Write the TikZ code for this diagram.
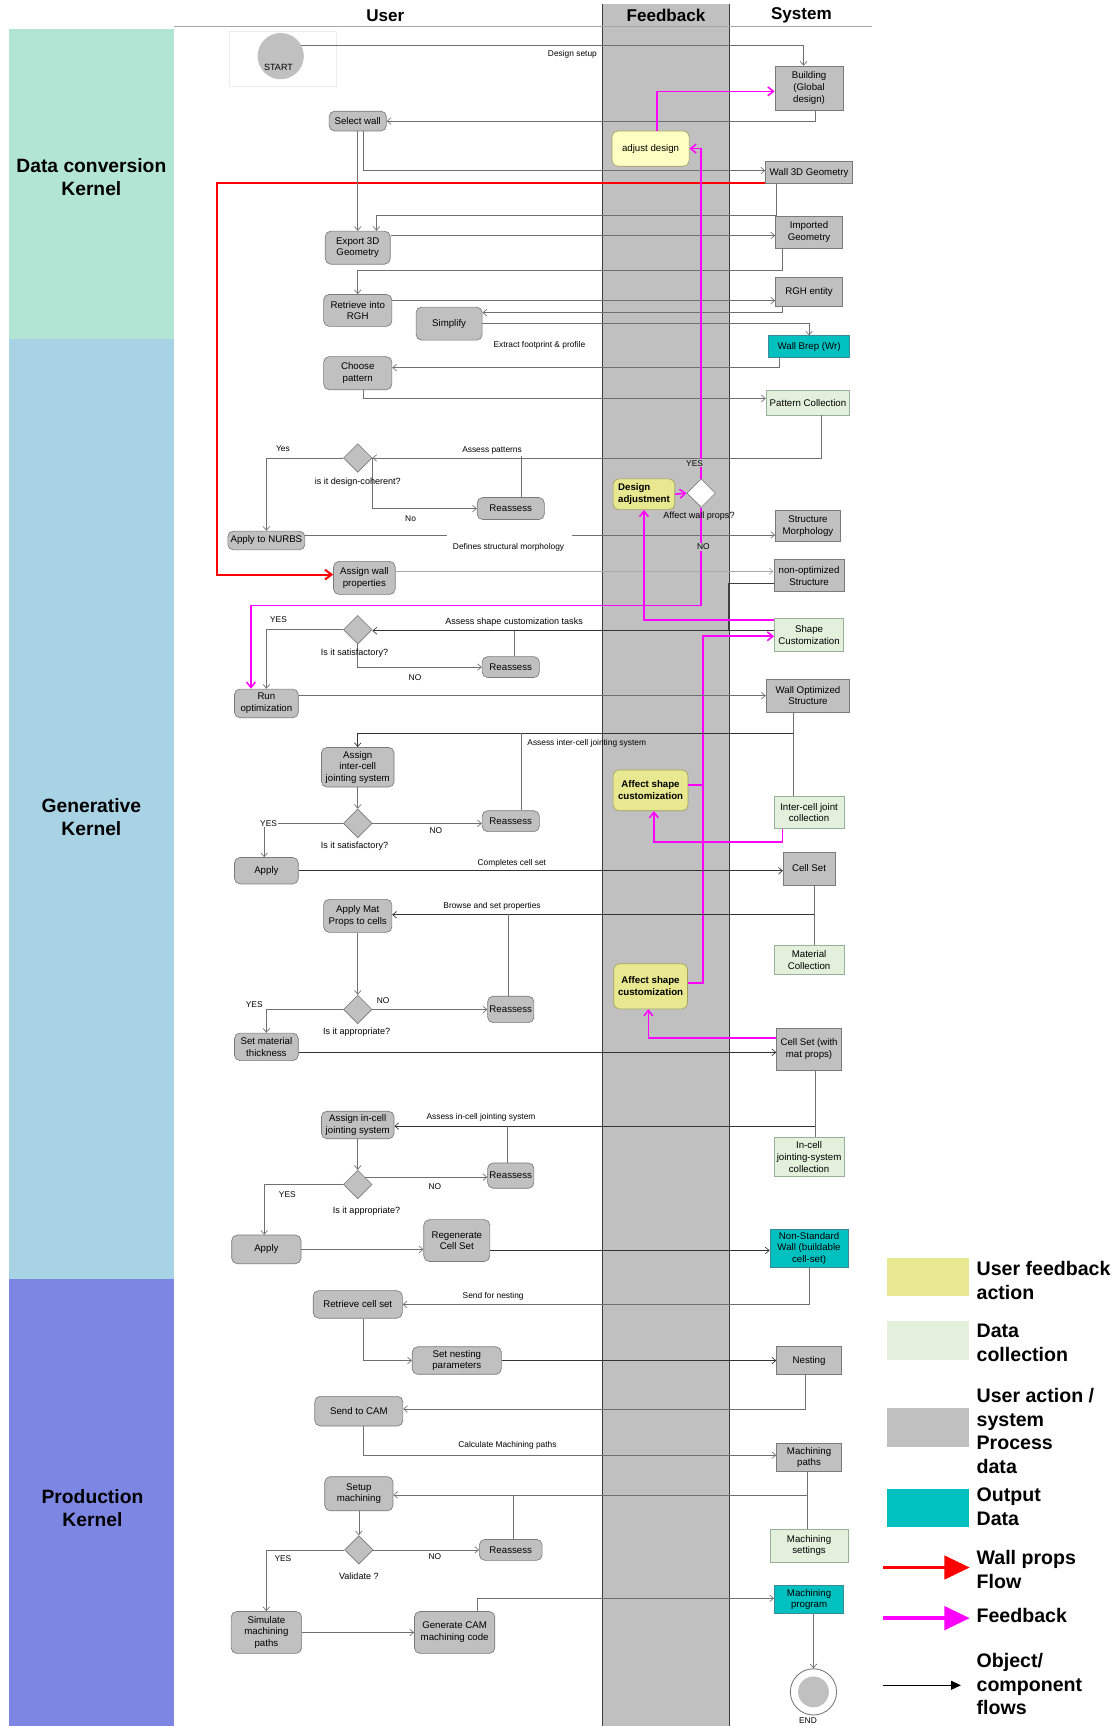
\documentclass[tikz,border=0pt]{standalone}
\usepackage{fontspec}
\setmainfont{Liberation Sans}
\usetikzlibrary{arrows.meta,shapes.geometric}
\definecolor{boxgray}{HTML}{C0C0C0}
\definecolor{boxedge}{HTML}{7A7A7A}
\definecolor{lanegray}{HTML}{C0C0C0}
\definecolor{datagreen}{HTML}{E2F0DC}
\definecolor{greenedge}{HTML}{98B098}
\definecolor{tealc}{HTML}{00C0C0}
\definecolor{tealedge}{HTML}{3A8A9A}
\definecolor{fbyellow}{HTML}{E8E890}
\definecolor{paleyellow}{HTML}{FFFFC4}
\definecolor{yedge}{HTML}{A0A060}
\definecolor{linec}{HTML}{707070}
\definecolor{mintband}{HTML}{B3E5D4}
\definecolor{blueband}{HTML}{A8D3E5}
\definecolor{purpband}{HTML}{7D86E2}
\definecolor{fbmag}{RGB}{255,0,255}
\definecolor{wpred}{RGB}{255,0,0}
\begin{document}
\begin{tikzpicture}[x=1pt,y=-1pt,
  base/.style={draw=boxedge, line width=0.6pt, align=center, inner sep=1pt, font=\fontsize{8.8}{10.6}\selectfont, text=black},
  ubox/.style={base, fill=boxgray, rounded corners=5pt},
  sbox/.style={base, fill=boxgray},
  dcol/.style={base, fill=datagreen, draw=greenedge},
  outd/.style={base, fill=tealc, draw=tealedge},
  fbk/.style={base, fill=fbyellow, draw=yedge, rounded corners=5pt, font=\bfseries\fontsize{8.8}{10.6}\selectfont},
  dia/.style={diamond, draw=boxedge, fill=boxgray, line width=0.6pt, minimum width=26pt, minimum height=26pt, inner sep=0pt},
  sz/.style 2 args={minimum width=#1pt, minimum height=#2pt},
  lbl/.style={font=\fontsize{7.6}{9}\selectfont, inner sep=1pt},
  qlbl/.style={font=\fontsize{8.2}{9.5}\selectfont, inner sep=1pt},
  ln/.style={draw=linec, line width=0.6pt, -{Straight Barb[length=3.5pt,width=6pt]}},
  lnk/.style={ln, draw=black!80},
  pl/.style={draw=linec, line width=0.6pt},
  mg/.style={draw=fbmag, line width=1.4pt, -{Straight Barb[length=5pt,width=8pt]}},
  mgp/.style={draw=fbmag, line width=1.4pt},
  rd/.style={draw=wpred, line width=1.8pt, -{Straight Barb[length=6pt,width=9pt]}},
  hdr/.style={font=\bfseries\fontsize{15.5}{18}\selectfont, inner sep=0pt},
  kern/.style={font=\bfseries\fontsize{17.5}{21}\selectfont, align=center, inner sep=0pt},
  legt/.style={font=\bfseries\fontsize{17.8}{21.5}\selectfont, align=left, anchor=west, inner sep=0pt},
  legbox/.style={minimum width=74pt, inner sep=0pt}
]
\useasboundingbox (0,0) rectangle (1015,1568);
\fill[white] (0,0) rectangle (1015,1568);
% kernel bands
\fill[mintband] (8,26) rectangle (158,308);
\fill[blueband] (8,308) rectangle (158,1162);
\fill[purpband] (8,1162) rectangle (158,1568);
\node[kern] (kdata) at (83,161) {Data conversion\\Kernel};
\node[kern] (kgen) at (83,742) {Generative\\Kernel};
\node[kern] (kprod) at (84,1370) {Production\\Kernel};
% feedback lane
\fill[lanegray] (547,4) rectangle (663,1568);
\draw[black!75, line width=0.8pt] (547,4) -- (547,1568) (663,4) -- (663,1568);
\draw[gray!70, line width=0.6pt] (158,24) -- (792,24);
\node[hdr] (huser) at (350,14) {User};
\node[hdr] (hfb) at (605,14) {Feedback};
\node[hdr] (hsys) at (728,14) {System};

% start
\draw[gray!15] (208,28) rectangle (305,78);
\node[circle, fill=boxgray, minimum size=42pt, inner sep=0pt] (start) at (255,51) {};
\node[qlbl] (startl) at (253,61) {START};

% nodes
\node[sbox, sz={62}{40}] (bld) at (735,80) {Building\\(Global\\design)};
\node[ubox, sz={52}{18}] (selw) at (325,110) {Select wall};
\node[base, fill=paleyellow, draw=yedge, rounded corners=5pt, sz={70}{32}] (adj) at (591,135) {adjust design};
\node[sbox, sz={79}{20}] (w3d) at (735,157) {Wall 3D Geometry};
\node[ubox, sz={59}{30}] (exp) at (325,225) {Export 3D\\Geometry};
\node[sbox, sz={61}{29}] (imp) at (735,211) {Imported\\Geometry};
\node[ubox, sz={62}{29}] (ret) at (325,282) {Retrieve into\\RGH};
\node[sbox, sz={61}{27}] (rgh) at (735,265) {RGH entity};
\node[ubox, sz={60}{30}] (simp) at (408,294) {Simplify};
\node[outd, sz={74}{20}] (brep) at (735,315) {Wall Brep (Wr)};
\node[ubox, sz={62}{30}] (choose) at (325,339) {Choose\\pattern};
\node[dcol, sz={76}{22}] (patc) at (734,366) {Pattern Collection};
\node[dia] (d1) at (325,416) {};
\node[ubox, sz={61}{20}] (re1) at (464,462) {Reassess};
\node[ubox, sz={70}{17}] (nurbs) at (242,491) {Apply to NURBS};
\node[sbox, sz={59}{28}] (smor) at (734,478) {Structure\\Morphology};
\node[ubox, sz={56}{30}] (awp) at (331,525) {Assign wall\\properties};
\node[sbox, sz={64}{29}] (nonopt) at (735,523) {non-optimized\\Structure};
\node[fbk, sz={56}{28}, align=left] (dadj) at (585,449) {Design\\adjustment};
\node[dia, fill=white] (dwp) at (637,448) {};
\node[dcol, sz={63}{30}] (shc) at (735,577) {Shape\\Customization};
\node[dia] (d2) at (325,572) {};
\node[ubox, sz={52}{19}] (re2) at (464,606) {Reassess};
\node[ubox, sz={58}{26}] (runopt) at (242,639) {Run\\optimization};
\node[sbox, sz={76}{30}] (wos) at (734,632) {Wall Optimized\\Structure};
\node[ubox, sz={66}{36}] (aic) at (325,697) {Assign\\inter-cell\\jointing system};
\node[dia] (d3) at (325,748) {};
\node[ubox, sz={52}{19}] (re3) at (464,746) {Reassess};
\node[dcol, sz={64}{29}] (icjc) at (735,738) {Inter-cell joint\\collection};
\node[fbk, sz={68}{37}] (asc1) at (591,718) {Affect shape\\customization};
\node[ubox, sz={58}{24}] (apply1) at (242,791) {Apply};
\node[sbox, sz={47}{30}] (cellset) at (735,789) {Cell Set};
\node[ubox, sz={62}{30}] (amp) at (325,832) {Apply Mat\\Props to cells};
\node[dcol, sz={64}{26}] (matc) at (735,872) {Material\\Collection};
\node[fbk, sz={67}{41}] (asc2) at (591,896) {Affect shape\\customization};
\node[dia] (d4) at (325,917) {};
\node[ubox, sz={42}{24}] (re4) at (464,917) {Reassess};
\node[ubox, sz={58}{25}] (smt) at (242,951) {Set material\\thickness};
\node[sbox, sz={59}{38}] (csmp) at (735,953) {Cell Set (with\\mat props)};
\node[ubox, sz={66}{25}] (ainc) at (325,1022) {Assign in-cell\\jointing system};
\node[dcol, sz={64}{36}] (injc) at (735,1051) {In-cell\\jointing-system\\collection};
\node[dia] (d5) at (325,1076) {};
\node[ubox, sz={42}{23}] (re5) at (464,1068) {Reassess};
\node[ubox, sz={63}{26}] (apply2) at (242,1135) {Apply};
\node[ubox, sz={60}{38}] (regen) at (415,1127) {Regenerate\\Cell Set};
\node[outd, sz={71}{35}] (nsw) at (735,1134) {Non-Standard\\Wall (buildable\\cell-set)};
\node[ubox, sz={81}{25}] (rcs) at (325,1185) {Retrieve cell set};
\node[ubox, sz={81}{25}] (snp) at (415,1236) {Set nesting\\parameters};
\node[sbox, sz={59}{25}] (nest) at (735,1236) {Nesting};
\node[ubox, sz={80}{27}] (cam) at (326,1282) {Send to CAM};
\node[sbox, sz={59}{25}] (mpath) at (735,1324) {Machining\\paths};
\node[ubox, sz={62}{31}] (setm) at (326,1357) {Setup\\machining};
\node[dcol, sz={71}{30}] (mset) at (735,1404) {Machining\\settings};
\node[dia] (d6) at (326,1408) {};
\node[ubox, sz={57}{19}] (re6) at (464,1408) {Reassess};
\node[ubox, sz={64}{38}] (sim) at (242,1483) {Simulate\\machining\\paths};
\node[ubox, sz={73}{38}] (gen) at (413,1483) {Generate CAM\\machining code};
\node[outd, sz={63}{25}] (mprog) at (735,1453) {Machining\\program};
\node[circle, draw=boxedge, fill=white, line width=0.8pt, minimum size=42pt, inner sep=0pt] (endn) at (739,1537) {};
\node[circle, fill=boxgray, minimum size=28pt, inner sep=0pt] (endin) at (739,1537) {};
\node[lbl] (endl) at (734,1563) {END};

% connectors
\draw[ln] (start.28) -| ([xshift=-5pt]bld.north);
\draw[ln] ([xshift=6pt]bld.south) |- (selw.east);
\draw[mg] ([xshift=6pt]adj.north) |- ([yshift=-3pt]bld.west);
\draw[ln] ([xshift=5pt]selw.south) |- ([yshift=2pt]w3d.west);
\coordinate (rc) at (197,166);
\draw[rd] ([yshift=-9pt]w3d.west) -- (rc) |- ([yshift=3pt]awp.west);
\draw[ln] (selw.south) -- (exp.north);
\draw[ln] ([xshift=-30pt]w3d.south) -- ++(0,28) -| ([xshift=17pt]exp.north);
\draw[ln] ([yshift=11pt]exp.east) -- ([yshift=11pt]exp.east -| imp.west);
\draw[ln] ([xshift=-24pt]imp.south) -- ++(0,20) -| (ret.north);
\draw[ln] ([yshift=9pt]ret.east) -- ([yshift=9pt]ret.east -| rgh.west);
\draw[ln] ([xshift=-24pt]rgh.south) |- ([yshift=10pt]simp.east);
\draw[ln] (simp.east) -| (brep.north);
\draw[ln] ([xshift=-27pt]brep.south) |- ([yshift=5pt]choose.east);
\draw[ln] ([xshift=5pt]choose.south) |- ([yshift=4pt]patc.west);
\draw[ln] ([xshift=12pt]patc.south) |- (d1.east);
\draw[ln] (d1.west) -| (nurbs.north);
\draw[ln] (d1.east) |- (re1.west);
\draw[pl] ([xshift=10pt]re1.north) -- ++(0,-37);
\coordinate (gapa) at (406,486);
\coordinate (gapb) at (520,486);
\draw[pl] ([yshift=5pt]nurbs.east) -- (gapa);
\draw[ln] (gapb) -- (gapb -| smor.west);
\draw[ln, draw=linec!60] ([yshift=6pt]awp.east) -- ([yshift=6pt]awp.east -| nonopt.west);
\coordinate (nj) at (662,573);
\draw[pl, draw=black!75] ([yshift=-7pt]nonopt.west) -| (nj);
\draw[lnk] ([yshift=4pt]shc.west) -- ([yshift=4pt]shc.west -| d2.east);
\draw[ln] (d2.west) -| (runopt.north);
\draw[ln] (d2.south) |- (re2.west);
\draw[pl] ([xshift=3pt]re2.north) -- ++(0,-23);
\coordinate (mgc) at (228,550);
\draw[mg] (dwp.south) |- (mgc) -- ([xshift=-14pt]runopt.north);
\draw[mg] (dadj.east) -- (dwp.west);
\draw[mg] (dwp.north) |- (adj.east);
\draw[mg] ([yshift=14pt]shc.west) -| (dadj.south);
\draw[mg] ([yshift=3pt]asc2.east) -- ++(14,0) |- ([yshift=-1pt]shc.west);
\draw[mgp] ([yshift=5pt]asc1.east) -- ++(14,0);
\draw[mg] ([xshift=-24pt]icjc.south) -- ++(0,12) -| ([xshift=3pt]asc1.south);
\draw[mg] ([yshift=10pt]csmp.west) -| ([xshift=-2pt]asc2.south);
\draw[ln] ([yshift=7pt]runopt.east) -- ([yshift=7pt]runopt.east -| wos.west);
\draw[lnk] ([xshift=-13pt]wos.south) -- ++(0,19) -| (aic.north);
\draw[pl] ([xshift=-13pt]wos.south) -- ([xshift=-13pt]wos.south |- icjc.north);
\draw[pl] ([xshift=10pt]re3.north) -- ++(0,-70.5);
\draw[ln] (aic.south) -- (d3.north);
\draw[ln] (d3.west) -| ([xshift=-2pt]apply1.north);
\draw[ln] (d3.east) -- (d3.east -| re3.west);
\draw[lnk] (apply1.east) -- (apply1.east -| cellset.west);
\draw[lnk] ([xshift=5pt]cellset.south) |- ([yshift=1pt]amp.east);
\draw[pl] ([xshift=5pt]cellset.south) -- ([xshift=5pt]cellset.south |- matc.north);
\draw[pl] ([xshift=-2pt]re4.north) -- ++(0,-74);
\draw[ln] (amp.south) -- (d4.north);
\draw[ln] (d4.west) -| (smt.north);
\draw[ln] (d4.east) -- (re4.west);
\draw[lnk] ([yshift=-5pt]smt.east) -- ([yshift=-5pt]smt.east -| csmp.west);
\draw[lnk] ([xshift=6pt]csmp.south) |- ([yshift=-1pt]ainc.east);
\draw[pl] ([xshift=6pt]csmp.south) -- ([xshift=6pt]csmp.south |- injc.north);
\draw[pl] ([xshift=-3pt]re5.north) -- ++(0,-33.5);
\draw[ln] (ainc.south) -- (d5.north);
\draw[ln] (d5.west) -| ([xshift=-2pt]apply2.north);
\draw[ln] (d5.north east) -- (d5.north east -| re5.west);
\draw[ln] (apply2.east) -- (apply2.east -| regen.west);
\draw[lnk] ([yshift=-9pt]regen.east) -- ([yshift=-9pt]regen.east -| nsw.west);
\draw[ln] (nsw.south) |- (rcs.east);
\draw[ln] ([xshift=5pt]rcs.south) |- (snp.west);
\draw[lnk] (snp.east) -- (nest.west);
\draw[ln] ([xshift=-3pt]nest.south) |- ([yshift=2pt]cam.east);
\draw[ln] ([xshift=4pt]cam.south) |- ([yshift=2pt]mpath.west);
\draw[ln] ([xshift=-2pt]mpath.south) |- ([yshift=-1pt]setm.east);
\draw[pl] ([xshift=-2pt]mpath.south) -- ([xshift=-2pt]mpath.south |- mset.north);
\draw[pl] ([xshift=2pt]re6.north) -- ++(0,-40.5);
\draw[ln] (setm.south) -- (d6.north);
\draw[ln] (d6.east) -- (re6.west);
\draw[ln] (d6.west) -| (sim.north);
\draw[ln] (sim.east) -- (gen.west);
\draw[ln] ([xshift=21pt]gen.north) |- ([yshift=1pt]mprog.west);
\draw[ln] ([xshift=4pt]mprog.south) -- ([xshift=4pt]mprog.south |- endn.north);

% labels
\node[lbl] (t1) at (520,49) {Design setup};
\node[lbl] (t2) at (490,314) {Extract footprint \& profile};
\node[lbl] (t3) at (447,409) {Assess patterns};
\node[lbl] (t4) at (257,408) {Yes};
\node[qlbl] (t5) at (325,438) {is it design-coherent?};
\node[lbl] (t6) at (373,471) {No};
\node[lbl] (t7) at (462,497) {Defines structural morphology};
\node[lbl, fill=lanegray] (t8) at (631,421) {YES};
\node[qlbl] (t9) at (635,469) {Affect wall props?};
\node[lbl, fill=lanegray] (t10) at (639,497) {NO};
\node[qlbl] (t11) at (467,565) {Assess shape customization tasks};
\node[lbl] (t12) at (253,563) {YES};
\node[qlbl] (t13) at (322,593) {Is it satisfactory?};
\node[lbl] (t14) at (377,616) {NO};
\node[lbl] (t15) at (533,675) {Assess inter-cell jointing system};
\node[lbl, fill=white] (t16) at (244,748) {YES};
\node[lbl] (t17) at (396,755) {NO};
\node[qlbl] (t18) at (322,769) {Is it satisfactory?};
\node[lbl] (t19) at (465,784) {Completes cell set};
\node[lbl] (t20) at (447,823) {Browse and set properties};
\node[lbl] (t21) at (348,909) {NO};
\node[lbl] (t22) at (231,913) {YES};
\node[qlbl] (t23) at (324,938) {Is it appropriate?};
\node[lbl] (t24) at (437,1015) {Assess in-cell jointing system};
\node[lbl] (t25) at (261,1085) {YES};
\node[lbl] (t26) at (395,1078) {NO};
\node[qlbl] (t27) at (333,1100) {Is it appropriate?};
\node[lbl] (t28) at (448,1178) {Send for nesting};
\node[lbl] (t29) at (461,1313) {Calculate Machining paths};
\node[lbl] (t30) at (395,1414) {NO};
\node[lbl] (t31) at (257,1416) {YES};
\node[qlbl] (t32) at (326,1432) {Validate ?};

% legend
\node[legbox, fill=fbyellow, minimum height=35pt] (lg1) at (843,1160) {};
\node[legbox, fill=datagreen, minimum height=35pt] (lg2) at (843,1218) {};
\node[legbox, fill=boxgray, minimum height=35pt] (lg3) at (843,1297) {};
\node[legbox, fill=tealc, minimum height=35pt] (lg4) at (843,1370) {};
\coordinate (lra) at (802,1424); \coordinate (lrb) at (881,1424);
\coordinate (lma) at (802,1470); \coordinate (lmb) at (881,1470);
\coordinate (lka) at (802,1531); \coordinate (lkb) at (873,1531);
\draw[wpred, line width=3.6pt, -{Triangle[length=23pt,width=21pt]}] (lra) -- (lrb);
\draw[fbmag, line width=3.6pt, -{Triangle[length=23pt,width=21pt]}] (lma) -- (lmb);
\draw[black, line width=1.3pt, -{Triangle[length=9pt,width=8pt]}] (lka) -- (lkb);
\node[legt] (lt1) at (887,1163) {User feedback\\action};
\node[legt] (lt2) at (887,1220) {Data\\collection};
\node[legt] (lt3) at (887,1300) {User action /\\system\\Process\\data};
\node[legt] (lt4) at (887,1369) {Output\\Data};
\node[legt] (lt5) at (887,1426) {Wall props\\Flow};
\node[legt] (lt6) at (887,1468) {Feedback};
\node[legt] (lt7) at (887,1530) {Object/\\component\\flows};
\end{tikzpicture}
\end{document}
